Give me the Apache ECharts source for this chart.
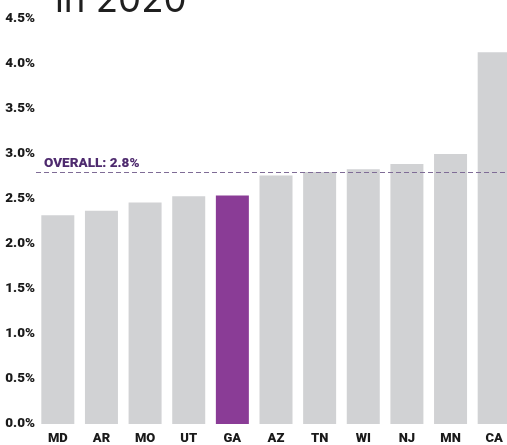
<!DOCTYPE html>
<html>
<head>
<meta charset="utf-8">
<script src="https://cdn.jsdelivr.net/npm/echarts@6/dist/echarts.min.js"></script>
<style>
  html, body { margin: 0; padding: 0; background: #ffffff; }
  #chart { width: 507px; height: 445px; }
</style>
</head>
<body>
<div id="chart"></div>
<script>
// States ranked by rate, 2020
const states = ['MD', 'AR', 'MO', 'UT', 'GA', 'AZ', 'TN', 'WI', 'NJ', 'MN', 'CA'];
const rates = [2.32, 2.37, 2.46, 2.53, 2.54, 2.76, 2.80, 2.83, 2.89, 3.00, 4.13];
const highlightState = 'GA';
const overallRate = 2.8;
const overallLabel = 'OVERALL: 2.8%';
const titleText = 'in 2020';

const labelFont = 'Roboto, "Liberation Sans", Arial, sans-serif';

const chart = echarts.init(document.getElementById('chart'), null, { renderer: 'canvas' });

chart.setOption({
  animation: false,
  backgroundColor: '#ffffff',
  graphic: [{
    type: 'text',
    left: 55,
    top: -18,
    style: {
      text: titleText,
      font: '400 36.6px Inter, "Open Sans", sans-serif',
      fill: '#1f1f1f'
    }
  }],
  grid: {
    left: 36, top: 19, bottom: 21, width: 480,
    outerBoundsMode: 'none',
    containLabel: false
  },
  xAxis: {
    type: 'category',
    data: states,
    axisLine: { show: false },
    axisTick: { show: false },
    axisLabel: {
      margin: 8,
      color: '#1a1a1a',
      fontFamily: labelFont,
      fontWeight: 900,
      fontSize: 13
    }
  },
  yAxis: {
    type: 'value',
    min: 0,
    max: 4.5,
    interval: 0.5,
    splitLine: { show: false },
    axisLine: { show: false },
    axisTick: { show: false },
    axisLabel: {
      margin: 1,
      color: '#1a1a1a',
      fontFamily: labelFont,
      fontWeight: 900,
      fontSize: 13.5,
      formatter: v => v.toFixed(1) + '%'
    }
  },
  series: [{
    type: 'bar',
    barWidth: 33,
    data: rates.map((v, i) => ({
      value: v,
      itemStyle: { color: states[i] === highlightState ? '#8a3c96' : '#d1d2d4' }
    })),
    markLine: {
      silent: true,
      symbol: 'none',
      lineStyle: { color: '#7f6c96', type: [5, 3], width: 1.2 },
      label: {
        position: 'insideStartTop',
        distance: [8, 1],
        formatter: overallLabel,
        color: '#4e2a6e',
        fontFamily: labelFont,
        fontWeight: 900,
        fontSize: 13.5
      },
      data: [{ yAxis: overallRate }]
    }
  }]
});
</script>
</body>
</html>
